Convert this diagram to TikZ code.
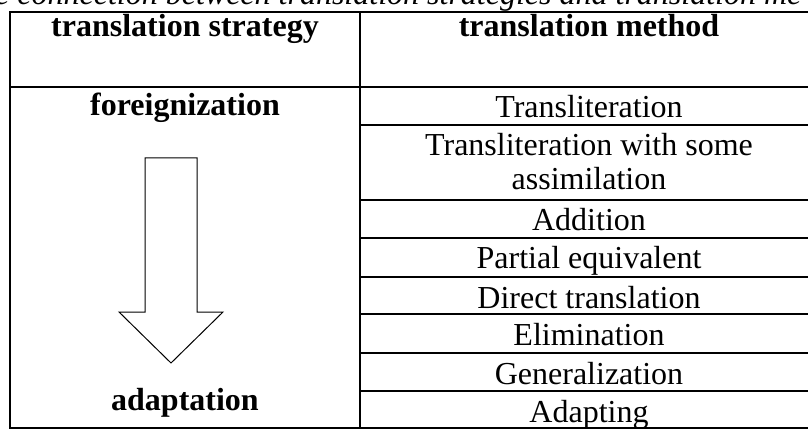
\documentclass[tikz,border=0pt]{standalone}
\usepackage{fontspec}
\setmainfont{Liberation Serif}

\begin{document}
\begin{tikzpicture}[x=1pt,y=-1pt]
\tikzstyle{every node}=[inner sep=0pt,anchor=base,font=\fontsize{32}{34.5}\selectfont]
\tikzstyle{head}=[font=\fontsize{32}{34.5}\selectfont\bfseries]
\tikzstyle{title}=[anchor=base west,font=\fontsize{32}{34.5}\selectfont\itshape]
\tikzstyle{grid}=[line width=1.6pt]
\useasboundingbox (0,0) rectangle (808,430);
% caption, cut by the page
\node[title] (caption) at (-5,5) {e connection between translation strategies and translation me};
% frame
\draw[grid] (818,12) -- (10,12) -- (10,428) -- (818,428);
\draw[grid] (360,12) -- (360,428);
\draw[grid] (10,87) -- (818,87);
\foreach \y in {125,200,238,277,314,353,391}
  \draw[grid] (360,\y) -- (818,\y);
% header
\node[head] (strat) at (185,37) {translation strategy};
\node[head] (meth) at (589,37) {translation method};
% left column
\node[head] (foreign) at (185,116) {foreignization};
\node[head] (adapt) at (185,410) {adaptation};
\draw[line width=1pt] (145,158) -- (197,158) -- (197,312) -- (223,312) -- (171,363)
  -- (119,312) -- (145,312) -- cycle;
% right column
\node (m1) at (589,118) {Transliteration};
\node[align=center] (m2) at (589,190) {Transliteration with some\\assimilation};
\foreach \t/\y [count=\i from 3] in {Addition/231,Partial equivalent/269,Direct translation/308,
  Elimination/345,Generalization/384,Adapting/422}
  \node (m\i) at (589,\y) {\t};
\end{tikzpicture}
\end{document}
